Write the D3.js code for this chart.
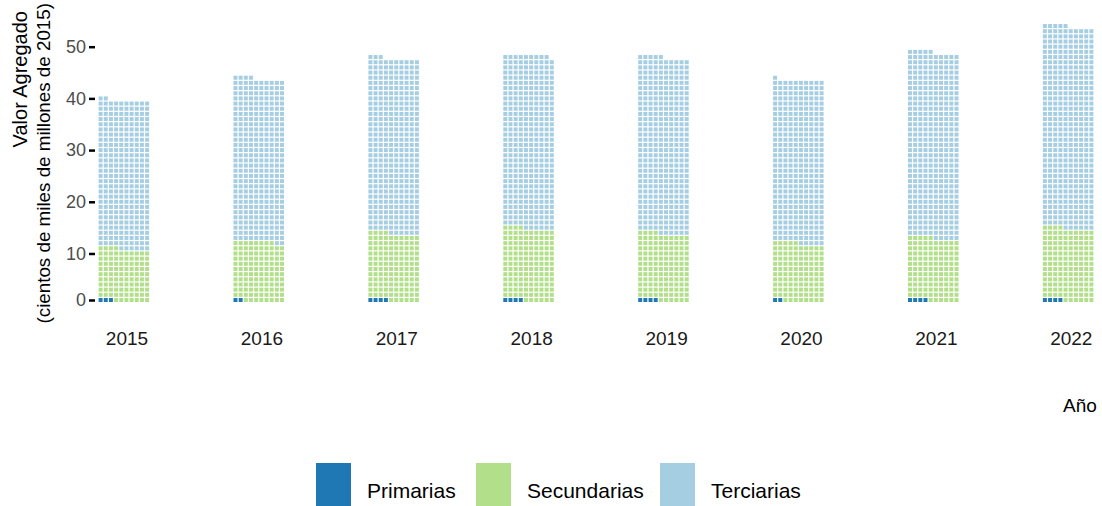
<!DOCTYPE html>
<html>
<head>
<meta charset="utf-8">
<script src="https://cdn.jsdelivr.net/npm/d3@7"></script>
<style>
  body { margin: 0; background: #fff; }
  text { font-family: "Liberation Sans", Arial, sans-serif; }
</style>
</head>
<body>
<svg width="1102" height="506"></svg>
<script>
// values in cientos de miles de millones (one square = 0.1)
const years = ["2015", "2016", "2017", "2018", "2019", "2020", "2021", "2022"];
const primarias   = [0.3, 0.2, 0.4, 0.4, 0.4, 0.2, 0.4, 0.4];
const secundarias = [10.1, 11.6, 13.0, 14.0, 13.0, 11.3, 12.1, 14.0];
const terciarias  = [28.8, 31.6, 33.9, 33.5, 34.1, 31.6, 36.0, 39.1];

const sectors = ["Primarias", "Secundarias", "Terciarias"];
const colors = ["#1f78b4", "#b2df8a", "#a6cee3"];

// y axis ticks: row numbers and their labels
const tickRows = [1, 10, 20, 30, 40, 50];
const tickLabels = ["0", "10", "20", "30", "40", "50"];

const perRow = 10;

var svg = d3.select("svg");

// rows scale (row 1 = bottom row)
var y = d3.scaleLinear().domain([1, 50]).range([300, 46.7]);
var pitch = y(1) - y(2);
var size = pitch - 1.2;

var x = d3.scaleBand().domain(years).range([98, 98 + 8 * 134.9]).padding(0);
var col = d3.scaleLinear().domain([0, perRow]).range([0, perRow * pitch]);

// build squares
var cells = [];
years.forEach(function(yr, k) {
    var counts = [primarias[k], secundarias[k], terciarias[k]].map(v => Math.round(v * 10));
    var i = 0;
    counts.forEach(function(n, s) {
        for (var j = 0; j < n; j++) {
            cells.push({year: yr, idx: i, sector: s});
            i++;
        }
    });
});

svg.append("g").selectAll("rect")
   .data(cells)
   .enter().append("rect")
   .attr("x", d => x(d.year) + col(d.idx % perRow) + 0.6)
   .attr("y", d => y(Math.floor(d.idx / perRow) + 1) - size / 2)
   .attr("width", size)
   .attr("height", size)
   .attr("fill", d => colors[d.sector]);

// y axis
var yAxis = d3.axisLeft(y)
              .tickValues(tickRows)
              .tickFormat((d, i) => tickLabels[i])
              .tickSize(6)
              .tickPadding(3);
var gy = svg.append("g").attr("transform", "translate(95,0)").call(yAxis);
gy.select(".domain").remove();
gy.selectAll(".tick line").attr("stroke", "#000").attr("stroke-width", 2.5);
gy.selectAll(".tick text").attr("fill", "#4d4d4d").style("font-size", "18px");

// year labels
svg.append("g").selectAll("text")
   .data(years)
   .enter().append("text")
   .attr("x", d => x(d) + 29)
   .attr("y", 345)
   .attr("text-anchor", "middle")
   .attr("fill", "#1a1a1a")
   .style("font-size", "19px")
   .text(d => d);

// axis titles
svg.append("text")
   .attr("transform", "translate(27,11) rotate(-90)")
   .attr("text-anchor", "end")
   .style("font-size", "20px")
   .text("Valor Agregado");
svg.append("text")
   .attr("transform", "translate(50,3) rotate(-90)")
   .attr("text-anchor", "end")
   .style("font-size", "18.8px")
   .text("(cientos de miles de millones de 2015)");

svg.append("text")
   .attr("x", 1080)
   .attr("y", 412)
   .attr("text-anchor", "middle")
   .style("font-size", "19px")
   .text("Año");

// legend
var legendX = [316, 476, 660];
var lg = svg.append("g").selectAll("g")
   .data(sectors)
   .enter().append("g")
   .attr("transform", (d, i) => "translate(" + legendX[i] + ",463)");
lg.append("rect")
  .attr("width", 35)
  .attr("height", 44)
  .attr("fill", (d, i) => colors[i]);
lg.append("text")
  .attr("x", 51)
  .attr("y", 35)
  .style("font-size", "21px")
  .text(d => d);
</script>
</body>
</html>
